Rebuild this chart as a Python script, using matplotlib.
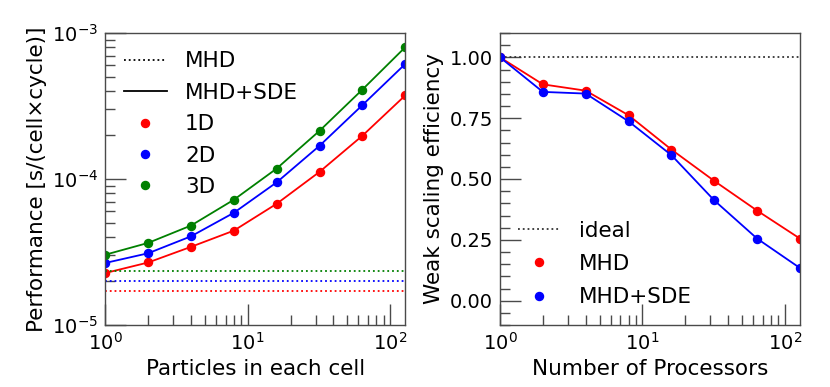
import numpy as np
import matplotlib
matplotlib.use("Agg")
import matplotlib.pyplot as plt
from matplotlib.ticker import MultipleLocator, LogLocator, NullFormatter, FormatStrFormatter
from matplotlib.lines import Line2D

particles = [1, 2, 4, 8, 16, 32, 64, 128]
perf_1d = [2.27e-5, 2.68e-5, 3.43e-5, 4.43e-5, 6.77e-5, 1.12e-4, 1.98e-4, 3.74e-4]
perf_2d = [2.66e-5, 3.10e-5, 4.05e-5, 5.87e-5, 9.49e-5, 1.69e-4, 3.21e-4, 6.14e-4]
perf_3d = [3.03e-5, 3.65e-5, 4.80e-5, 7.21e-5, 1.18e-4, 2.14e-4, 4.10e-4, 8.0e-4]
mhd_1d = 1.71e-5
mhd_2d = 1.99e-5
mhd_3d = 2.33e-5

procs = [1, 2, 4, 8, 16, 32, 64, 128]
eff_mhd = [1.0, 0.889, 0.863, 0.762, 0.621, 0.492, 0.370, 0.255]
eff_sde = [1.0, 0.858, 0.851, 0.737, 0.598, 0.412, 0.255, 0.134]

FS_TICK = 14
FS_LAB = 15.5
plt.rcParams['font.family'] = ['DejaVu Sans']
plt.rcParams['mathtext.fontset'] = 'dejavusans'

fig = plt.figure(figsize=(8.3, 3.87), dpi=100)
ax1 = fig.add_axes([105.3/830, 62/387, 300/830, 292/387])
ax2 = fig.add_axes([500/830, 62/387, 300/830, 292/387])

frame_col = '#4a4a4a'
MS = 5.8
LW = 1.3

def style(ax):
    for s in ax.spines.values():
        s.set_color(frame_col)
        s.set_linewidth(1.0)
    ax.tick_params(which='major', direction='in', length=15, width=1.0,
                   color=frame_col, labelsize=FS_TICK, pad=5)
    ax.tick_params(which='minor', direction='in', length=7.5, width=1.0,
                   color=frame_col)
    ax.tick_params(top=False, right=False, which='both')

# Left panel
for vals, mhd, c in [(perf_1d, mhd_1d, 'red'), (perf_2d, mhd_2d, 'blue'), (perf_3d, mhd_3d, 'green')]:
    ax1.plot(particles, vals, '-o', color=c, lw=LW, ms=MS)
    ax1.axhline(mhd, color=c, ls=':', lw=LW)
ax1.set_xscale('log')
ax1.set_yscale('log')
ax1.set_xlim(1, 128)
ax1.set_ylim(1e-5, 1e-3)
ax1.xaxis.set_minor_locator(LogLocator(base=10, subs=np.arange(2, 10)))
ax1.yaxis.set_minor_locator(LogLocator(base=10, subs=np.arange(2, 10)))
ax1.xaxis.set_minor_formatter(NullFormatter())
ax1.yaxis.set_minor_formatter(NullFormatter())
style(ax1)
ax1.set_xlabel('Particles in each cell', fontsize=FS_LAB)
ax1.set_ylabel('Performance [s/(cell×cycle)]', fontsize=FS_LAB)
h1 = [Line2D([], [], color='black', ls=':', lw=LW),
      Line2D([], [], color='black', ls='-', lw=LW),
      Line2D([], [], color='red', marker='o', ls='none', ms=MS),
      Line2D([], [], color='blue', marker='o', ls='none', ms=MS),
      Line2D([], [], color='green', marker='o', ls='none', ms=MS)]
ax1.legend(h1, ['MHD', 'MHD+SDE', '1D', '2D', '3D'], loc='upper left',
           frameon=False, fontsize=FS_LAB, handlelength=2.0, handletextpad=0.85,
           labelspacing=0.53, borderaxespad=0.45)

# Right panel
ax2.axhline(1.0, color='#333333', ls=':', lw=LW)
ax2.plot(procs, eff_mhd, '-o', color='red', lw=LW, ms=MS)
ax2.plot(procs, eff_sde, '-o', color='blue', lw=LW, ms=MS)
ax2.set_xscale('log')
ax2.set_xlim(1, 128)
ax2.set_ylim(-0.1, 1.1)
ax2.yaxis.set_major_locator(MultipleLocator(0.25))
ax2.yaxis.set_minor_locator(MultipleLocator(0.05))
ax2.yaxis.set_major_formatter(FormatStrFormatter('%.2f'))
ax2.xaxis.set_minor_locator(LogLocator(base=10, subs=np.arange(2, 10)))
ax2.xaxis.set_minor_formatter(NullFormatter())
style(ax2)
ax2.set_xlabel('Number of Processors', fontsize=FS_LAB)
ax2.set_ylabel('Weak scaling efficiency', fontsize=FS_LAB)
h2 = [Line2D([], [], color='#333333', ls=':', lw=LW),
      Line2D([], [], color='red', marker='o', ls='none', ms=MS),
      Line2D([], [], color='blue', marker='o', ls='none', ms=MS)]
ax2.legend(h2, ['ideal', 'MHD', 'MHD+SDE'], loc='lower left',
           frameon=False, fontsize=FS_LAB, handlelength=2.0, handletextpad=0.85,
           labelspacing=0.62, borderaxespad=0.42)

fig.savefig('out.png', dpi=100)
